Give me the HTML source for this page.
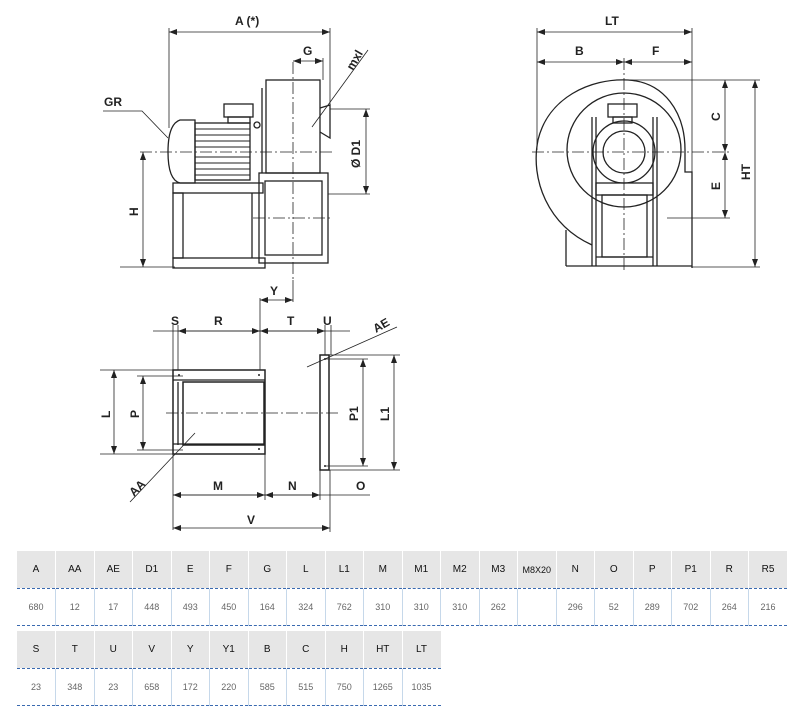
<!DOCTYPE html>
<html><head><meta charset="utf-8"><style>
body{margin:0;width:812px;height:728px;background:#fff;position:relative;overflow:hidden;font-family:"Liberation Sans",sans-serif}
svg{position:absolute;left:0;top:0}
table{position:absolute;left:17px;border-collapse:collapse;table-layout:fixed}
td{padding:0;text-align:center;overflow:hidden;white-space:nowrap}
tr.h td{background:#e6e6e6;height:37px;font-size:10px;color:#111;border-left:1px solid #fff;border-bottom:1px dashed #3a6ab0}
tr.d td{height:36px;font-size:9px;color:#666;border-left:1px solid #c6d8ea;border-bottom:1px dashed #3a6ab0}
tr td:first-child{border-left:none}
</style></head><body>
<svg width="812" height="540" viewBox="0 0 812 540" font-family="Liberation Sans, sans-serif" font-size="12" fill="none" stroke="#222" stroke-width="1.3">
<defs><marker id="a" markerWidth="8" markerHeight="6" refX="8" refY="3" orient="auto-start-reverse" markerUnits="userSpaceOnUse"><path d="M0,0 L8,3 L0,6z" fill="#222" stroke="none"/></marker></defs>
<g stroke-width="0.8">
<line x1="169" y1="32" x2="330" y2="32" marker-start="url(#a)" marker-end="url(#a)"/>
<line x1="169" y1="28" x2="169" y2="128"/><line x1="330" y1="28" x2="330" y2="105"/>
<line x1="293" y1="61" x2="323" y2="61" marker-start="url(#a)" marker-end="url(#a)"/>
<line x1="323" y1="58" x2="323" y2="80"/>
<line x1="366" y1="109" x2="366" y2="194" marker-start="url(#a)" marker-end="url(#a)"/>
<line x1="330" y1="109" x2="370" y2="109"/><line x1="328" y1="194" x2="370" y2="194"/>
<line x1="368" y1="50" x2="312" y2="127"/>
<polyline points="103,111 142,111 168,138"/>
<line x1="143" y1="152" x2="143" y2="267" marker-start="url(#a)" marker-end="url(#a)"/>
<line x1="120" y1="267" x2="175" y2="267"/>
<line x1="537" y1="32" x2="692" y2="32" marker-start="url(#a)" marker-end="url(#a)"/>
<line x1="537" y1="62" x2="624" y2="62" marker-start="url(#a)" marker-end="url(#a)"/>
<line x1="624" y1="62" x2="692" y2="62" marker-start="url(#a)" marker-end="url(#a)"/>
<line x1="537" y1="28" x2="537" y2="150"/><line x1="692" y1="28" x2="692" y2="172"/>
<line x1="624" y1="80" x2="760" y2="80"/><line x1="692" y1="267" x2="760" y2="267"/><line x1="667" y1="218" x2="730" y2="218"/>
<line x1="725" y1="80" x2="725" y2="152" marker-start="url(#a)" marker-end="url(#a)"/>
<line x1="725" y1="152" x2="725" y2="218" marker-start="url(#a)" marker-end="url(#a)"/>
<line x1="755" y1="80" x2="755" y2="267" marker-start="url(#a)" marker-end="url(#a)"/>
<line x1="260" y1="300" x2="293" y2="300" marker-start="url(#a)" marker-end="url(#a)"/>
<line x1="293" y1="280" x2="293" y2="302"/><line x1="260" y1="298" x2="260" y2="370"/>
<line x1="153" y1="331" x2="350" y2="331"/>
<line x1="173" y1="325" x2="173" y2="530"/><line x1="178" y1="325" x2="178" y2="370"/>
<line x1="325" y1="325" x2="325" y2="355"/><line x1="331" y1="325" x2="331" y2="355"/>
<line x1="178" y1="331" x2="260" y2="331" marker-start="url(#a)" marker-end="url(#a)"/>
<line x1="260" y1="331" x2="325" y2="331" marker-start="url(#a)" marker-end="url(#a)"/>
<line x1="114" y1="370" x2="114" y2="454" marker-start="url(#a)" marker-end="url(#a)"/>
<line x1="100" y1="370" x2="173" y2="370"/><line x1="100" y1="454" x2="173" y2="454"/>
<line x1="143" y1="376" x2="143" y2="450" marker-start="url(#a)" marker-end="url(#a)"/>
<line x1="137" y1="376" x2="183" y2="376"/><line x1="137" y1="450" x2="183" y2="450"/>
<line x1="363" y1="359" x2="363" y2="466" marker-start="url(#a)" marker-end="url(#a)"/>
<line x1="394" y1="355" x2="394" y2="470" marker-start="url(#a)" marker-end="url(#a)"/>
<line x1="329" y1="355" x2="400" y2="355"/><line x1="329" y1="470" x2="400" y2="470"/>
<line x1="325" y1="359" x2="368" y2="359"/><line x1="325" y1="466" x2="368" y2="466"/>
<line x1="173" y1="495" x2="370" y2="495"/>
<line x1="173" y1="495" x2="265" y2="495" marker-start="url(#a)" marker-end="url(#a)"/>
<line x1="265" y1="495" x2="320" y2="495" marker-start="url(#a)" marker-end="url(#a)"/>
<line x1="265" y1="454" x2="265" y2="500"/><line x1="320" y1="470" x2="320" y2="500"/><line x1="330" y1="470" x2="330" y2="532"/>
<line x1="173" y1="528" x2="330" y2="528" marker-start="url(#a)" marker-end="url(#a)"/>
<line x1="397" y1="327" x2="307" y2="367"/>
<line x1="130" y1="502" x2="195" y2="433"/>
</g>
<g stroke-width="0.8" stroke-dasharray="12,3,2,3">
<line x1="293" y1="62" x2="293" y2="282"/><line x1="140" y1="152" x2="335" y2="152"/>
<line x1="253" y1="218" x2="330" y2="218"/>
<line x1="624" y1="58" x2="624" y2="270"/><line x1="532" y1="152" x2="730" y2="152"/>
<line x1="166" y1="413" x2="340" y2="413"/>
</g>
<rect x="266" y="80" width="54" height="93"/>
<polyline points="320,108 330,105 330,138 320,132"/>
<line x1="262" y1="88" x2="262" y2="173"/>
<path d="M195,120 L180,120 Q168,124 168,152 Q168,180 180,183 L195,183Z"/>
<rect x="195" y="123" width="55" height="57"/>
<g stroke-width="1"><line x1="195" y1="129" x2="250" y2="129"/><line x1="195" y1="135" x2="250" y2="135"/><line x1="195" y1="141" x2="250" y2="141"/><line x1="195" y1="147" x2="250" y2="147"/><line x1="195" y1="157" x2="250" y2="157"/><line x1="195" y1="163" x2="250" y2="163"/><line x1="195" y1="169" x2="250" y2="169"/><line x1="195" y1="175" x2="250" y2="175"/></g>
<rect x="224" y="104" width="29" height="13"/><rect x="228" y="117" width="22" height="6"/>
<circle cx="257" cy="125" r="3"/>
<rect x="173" y="183" width="90" height="10"/>
<rect x="173" y="193" width="10" height="65"/><line x1="252" y1="193" x2="252" y2="258"/>
<rect x="173" y="258" width="92" height="10"/>
<rect x="259" y="173" width="69" height="90"/><rect x="265" y="181" width="57" height="74"/>
<path d="M592,245 C548,225 530,180 538,140 C548,98 590,78 628,80 C664,82 685,112 685,150 L685,172 L692,172 L692,268"/>
<circle cx="624" cy="150" r="57"/>
<circle cx="624" cy="152" r="31"/><circle cx="624" cy="152" r="21"/>
<rect x="608" y="104" width="29" height="13"/><rect x="613" y="117" width="19" height="6"/>
<line x1="592" y1="117" x2="592" y2="266"/><line x1="596" y1="117" x2="596" y2="266"/>
<line x1="653" y1="117" x2="653" y2="266"/><line x1="657" y1="117" x2="657" y2="266"/>
<rect x="596" y="183" width="57" height="12"/>
<rect x="602" y="195" width="45" height="62"/>
<line x1="566" y1="266" x2="692" y2="266"/><line x1="566" y1="230" x2="566" y2="266"/>
<line x1="596" y1="257" x2="653" y2="257"/>
<rect x="173" y="370" width="92" height="84" stroke-width="1.5"/>
<line x1="173" y1="380" x2="265" y2="380"/><line x1="173" y1="444" x2="265" y2="444"/>
<rect x="183" y="382" width="81" height="63" stroke-width="1.5"/>
<line x1="178" y1="382" x2="178" y2="445"/>
<rect x="320" y="355" width="9" height="115" stroke-width="1.5"/>
<g fill="#222" stroke="none"><circle cx="179" cy="375" r="1"/><circle cx="259" cy="375" r="1"/><circle cx="259" cy="449" r="1"/><circle cx="325" cy="359" r="1"/><circle cx="325" cy="466" r="1"/></g>
<g fill="#222" stroke="none" font-size="12" font-weight="bold">
<text x="235" y="25">A (*)</text><text x="303" y="55">G</text>
<text x="104" y="106">GR</text>
<text transform="translate(353,71) rotate(-60)">mxl</text>
<text transform="translate(360,168) rotate(-90)">Ø D1</text>
<text transform="translate(138,216) rotate(-90)">H</text>
<text x="605" y="25">LT</text><text x="575" y="55">B</text><text x="652" y="55">F</text>
<text transform="translate(720,121) rotate(-90)">C</text>
<text transform="translate(720,190) rotate(-90)">E</text>
<text transform="translate(750,180) rotate(-90)">HT</text>
<text x="270" y="295">Y</text>
<text x="171" y="325">S</text><text x="214" y="325">R</text><text x="287" y="325">T</text><text x="323" y="325">U</text>
<text transform="translate(376,333) rotate(-30)">AE</text>
<text transform="translate(110,418) rotate(-90)">L</text>
<text transform="translate(139,418) rotate(-90)">P</text>
<text transform="translate(358,421) rotate(-90)">P1</text>
<text transform="translate(389,421) rotate(-90)">L1</text>
<text transform="translate(134,497) rotate(-45)">AA</text>
<text x="213" y="490">M</text><text x="288" y="490">N</text><text x="356" y="490">O</text>
<text x="247" y="524">V</text>
</g>
</svg>
<table style="top:551px;width:770px">
<colgroup><col span="20" style="width:38.5px"></colgroup>
<tr class="h"><td>A</td><td>AA</td><td>AE</td><td>D1</td><td>E</td><td>F</td><td>G</td><td>L</td><td>L1</td><td>M</td><td>M1</td><td>M2</td><td>M3</td><td style="font-size:9px">M8X20</td><td>N</td><td>O</td><td>P</td><td>P1</td><td>R</td><td>R5</td></tr>
<tr class="d"><td>680</td><td>12</td><td>17</td><td>448</td><td>493</td><td>450</td><td>164</td><td>324</td><td>762</td><td>310</td><td>310</td><td>310</td><td>262</td><td></td><td>296</td><td>52</td><td>289</td><td>702</td><td>264</td><td>216</td></tr>
</table>
<table style="top:631px;width:423.5px">
<colgroup><col span="11" style="width:38.5px"></colgroup>
<tr class="h"><td>S</td><td>T</td><td>U</td><td>V</td><td>Y</td><td>Y1</td><td>B</td><td>C</td><td>H</td><td>HT</td><td>LT</td></tr>
<tr class="d"><td>23</td><td>348</td><td>23</td><td>658</td><td>172</td><td>220</td><td>585</td><td>515</td><td>750</td><td>1265</td><td>1035</td></tr>
</table>
</body></html>
